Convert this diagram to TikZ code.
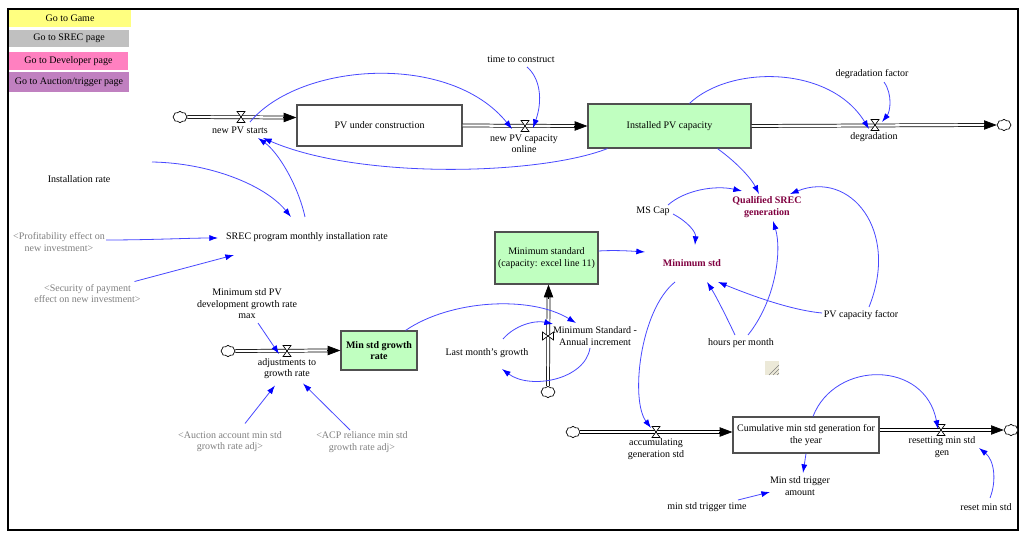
\documentclass[tikz,border=0pt]{standalone}
\usepackage{fontspec}
\setmainfont{Liberation Serif}
\usetikzlibrary{arrows.meta,calc,shapes.symbols}
\definecolor{stockgreen}{HTML}{C0FFC0}
\definecolor{stockborder}{HTML}{505050}
\definecolor{btnyellow}{HTML}{FFFF80}
\definecolor{btngray}{HTML}{C0C0C0}
\definecolor{btnpink}{HTML}{FF80C0}
\definecolor{btnpurple}{HTML}{C080C0}
\definecolor{maroontext}{HTML}{800040}
\definecolor{textgray}{HTML}{808080}
\definecolor{connblue}{HTML}{4848FF}
\definecolor{arrowblue}{HTML}{0000FF}
\definecolor{gripbeige}{HTML}{ECE9D8}
\begin{document}
\begin{tikzpicture}[x=0.75pt,y=-0.75pt,
  font=\fontsize{7.5}{8.6}\selectfont,
  lab/.style={align=center, inner sep=0pt, text=black},
  glab/.style={lab, text=textgray},
  mlab/.style={lab, text=maroontext, font=\fontsize{7.5}{8.6}\selectfont\bfseries},
  stockbox/.style={draw=stockborder, line width=0.9pt, inner sep=0pt, align=center},
  btn/.style={inner sep=0pt, align=center},
  conn/.style={draw=connblue, line width=0.6pt, -{Latex[length=6.5pt,width=4.5pt,color=arrowblue]}},
  pipe/.style={draw=black, double=white, line width=0.55pt, double distance=1.7pt},
  pipetip/.style={-{Triangle[length=9.5pt,width=7pt]}, line width=0.5pt},
  cloudnode/.style={cloud, draw, fill=white, cloud puffs=8, cloud puff arc=120, aspect=1.25, inner sep=0pt, minimum width=10.5pt, minimum height=8.5pt, line width=0.5pt},
  valveh/.pic={\draw[fill=white, line width=0.5pt] (-4,-5.5) -- (4,-5.5) -- (-4,5.5) -- (4,5.5) -- cycle;},
  valvev/.pic={\draw[fill=white, line width=0.5pt] (-5.5,-4) -- (-5.5,4) -- (5.5,-4) -- (5.5,4) -- cycle;}
]
\useasboundingbox (0,0) rectangle (1024,538);
\fill[white] (0,0) rectangle (1024,538);
\draw[line width=1.1pt] (8,9) rectangle (1018,530);

% buttons
\node[btn, fill=btnyellow, minimum width=91.5pt, minimum height=12.75pt] (bgame) at (70,18.5) {Go to Game};
\node[btn, fill=btngray, minimum width=90pt, minimum height=12.75pt] (bsrec) at (69,38.5) {Go to SREC page};
\node[btn, fill=btnpink, minimum width=89.25pt, minimum height=13.5pt] (bdev) at (68.5,61) {Go to Developer page};
\node[btn, fill=btnpurple, minimum width=90pt, minimum height=15pt] (bauc) at (69,82) {Go to Auction/trigger page};

% stocks
\node[stockbox, fill=white, minimum width=123.75pt, minimum height=30.75pt] (pvuc) at (379.5,125.5) {PV under construction};
\node[stockbox, fill=stockgreen, minimum width=122.25pt, minimum height=33pt] (ipv) at (669.5,126) {Installed PV capacity};
\node[stockbox, fill=stockgreen, minimum width=77.25pt, minimum height=39pt] (mstd) at (546.5,258) {Minimum standard\\(capacity: excel line 11)};
\node[stockbox, fill=stockgreen, minimum width=57pt, minimum height=29.25pt, font=\fontsize{7.5}{8.6}\selectfont\bfseries] (msgr) at (379,350.5) {Min std growth\\rate};
\node[stockbox, fill=white, minimum width=109.5pt, minimum height=27pt] (cum) at (806,435) {Cumulative min std generation for\\the year};

% clouds
\node[cloudnode] (c1) at (180,117) {};
\node[cloudnode] (c2) at (1004,125) {};
\node[cloudnode] (c3) at (228,351) {};
\node[cloudnode] (c4) at (548,392) {};
\node[cloudnode] (c5) at (573,432) {};
\node[cloudnode] (c6) at (1011,430) {};

% valve positions
\coordinate (vnps) at (241,117);
\coordinate (vnpo) at (525,126);
\coordinate (vdeg) at (875,125);
\coordinate (vadj) at (287,351);
\coordinate (vmsa) at (548,336);
\coordinate (vacc) at (656,432);
\coordinate (vres) at (941,430);

% pipes
\draw[pipe] (c1.east) -- ($(pvuc.west)+(-11,-8)$);
\draw[pipetip] ($(pvuc.west)+(-13,-8)$) -- ($(pvuc.west)+(0,-8)$);
\draw[pipe] (pvuc.east) -- ($(ipv.west)+(-11,0)$);
\draw[pipetip] ($(ipv.west)+(-13,0)$) -- (ipv.west);
\draw[pipe] (ipv.east) -- ($(c2.west)+(-11,0)$);
\draw[pipetip] ($(c2.west)+(-13,0)$) -- (c2.west);
\draw[pipe] (c3.east) -- ($(msgr.west)+(-11,0)$);
\draw[pipetip] ($(msgr.west)+(-13,0)$) -- (msgr.west);
\draw[pipe] (c4.north) -- ($(mstd.south)+(2,12)$);
\draw[pipetip] ($(mstd.south)+(2,14)$) -- ($(mstd.south)+(2,0)$);
\draw[pipe] (c5.east) -- ($(cum.west)+(-11,-3)$);
\draw[pipetip] ($(cum.west)+(-13,-3)$) -- ($(cum.west)+(0,-3)$);
\draw[pipe] ($(cum.east)+(0,-5)$) -- ($(c6.west)+(-11,0)$);
\draw[pipetip] ($(c6.west)+(-13,0)$) -- (c6.west);

% valves
\pic at (vnps) {valveh};
\pic at (vnpo) {valveh};
\pic at (vdeg) {valveh};
\pic at (vadj) {valveh};
\pic at (vmsa) {valvev};
\pic at (vacc) {valveh};
\pic at (vres) {valveh};

% flow labels
\node[lab] (lnps) at (240,130) {new PV starts};
\node[lab] (lnpo) at (524,144) {new PV capacity\\online};
\node[lab] (ldeg) at (874,137) {degradation};
\node[lab] (ladj) at (287,368.5) {adjustments to\\growth rate};
\node[lab] (lmsa) at (595,336) {Minimum Standard -\\Annual increment};
\node[lab] (lacc) at (656,449) {accumulating\\generation std};
\node[lab] (lres) at (942,447) {resetting min std\\gen};

% auxiliaries
\node[lab] (tc) at (521,59) {time to construct};
\node[lab] (df) at (872,74) {degradation factor};
\node[lab] (ir) at (79,179) {Installation rate};
\node[lab] (srec) at (307,237) {SREC program monthly installation rate};
\node[glab] (prof) at (59,242) {<Profitability effect on\\new investment>};
\node[glab] (sec) at (87.5,293.5) {<Security of payment\\effect on new investment>};
\node[lab] (mpv) at (247,304) {Minimum std PV\\development growth rate\\max};
\node[lab] (lmg) at (487,353) {Last month's growth};
\node[lab] (msc) at (653,211) {MS Cap};
\node[mlab] (qsg) at (767,207) {Qualified SREC\\generation};
\node[mlab] (mins) at (692,263) {Minimum std};
\node[lab] (pvcf) at (861,315) {PV capacity factor};
\node[lab] (hpm) at (741,343) {hours per month};
\node[glab] (auc) at (230,441.5) {<Auction account min std\\growth rate adj>};
\node[glab] (acp) at (362,442) {<ACP reliance min std\\growth rate adj>};
\node[lab] (mta) at (800,486) {Min std trigger\\amount};
\node[lab] (mtt) at (707,507) {min std trigger time};
\node[lab] (rms) at (986,507) {reset min std};

% grip icon
\fill[gripbeige] (765,361) rectangle (779,375);
\draw[gray, line width=0.5pt] (769,375) -- (779,365) (773,375) -- (779,369) (777,375) -- (779,373);

% connectors
\draw[conn] ($(lnps)+(10,-8)$) .. controls (300,62) and (450,52) .. ($(lnpo)+(-12,-15)$);
\draw[conn] ($(tc)+(6,8)$) .. controls (540,78) and (543,100) .. ($(vnpo)+(8,2)$);
\draw[conn] ($(ipv.south west)+(20,0)$) .. controls (540,175) and (360,180) .. ($(lnps)+(23,8)$);
\draw[conn] ($(srec)+(-2,-20)$) .. controls (298,185) and (278,152) .. ($(lnps)+(18,8)$);
\draw[conn] ($(ir)+(73,-17)$) .. controls (210,163) and (265,185) .. ($(srec)+(-16,-20)$);
\draw[conn] ($(prof)+(47,-2)$) .. controls (150,240) and (190,238) .. ($(srec)+(-89,1)$);
\draw[conn] ($(sec)+(47,-12)$) -- ($(srec)+(-73,18)$);
\draw[conn] ($(ipv.north)+(20,0)$) .. controls (730,65) and (830,65) .. ($(vdeg)+(-6,4)$);
\draw[conn] ($(df)+(12,8)$) .. controls (893,95) and (890,112) .. ($(vdeg)+(7,-3)$);
\draw[conn] ($(ipv.south)+(48,0)$) .. controls (740,165) and (752,180) .. ($(qsg)+(-8,-13)$);
\draw[conn] ($(msc)+(15,-6)$) .. controls (685,190) and (715,185) .. ($(qsg)+(-25,-16)$);
\draw[conn] ($(msc)+(20,3)$) .. controls (688,222) and (696,232) .. ($(mins)+(3,-18)$);
\draw[conn] ($(pvcf)+(8,-8)$) .. controls (900,230) and (850,170) .. ($(qsg)+(23,-13)$);
\draw[conn] ($(pvcf)+(-39,-2)$) .. controls (790,310) and (750,295) .. ($(mins)+(26,19)$);
\draw[conn] ($(hpm)+(-6,-8)$) .. controls (728,320) and (716,296) .. ($(mins)+(15,19)$);
\draw[conn] ($(hpm)+(7,-8)$) .. controls (776,300) and (782,250) .. ($(qsg)+(6,14)$);
\draw[conn] ($(mstd.east)+(0,-7)$) .. controls (615,250) and (630,251) .. ($(mins)+(-47,-11)$);
\draw[conn] ($(msgr.north east)+(-12,0)$) .. controls (450,300) and (530,295) .. ($(lmsa)+(-19,-13)$);
\draw[conn] ($(lmg)+(16,-14)$) .. controls (515,325) and (535,320) .. ($(vmsa)+(5,-12)$);
\draw[conn] ($(lmsa)+(-5,12)$) .. controls (585,380) and (530,390) .. ($(lmg)+(15,16)$);
\draw[conn] ($(mins)+(-17,19)$) .. controls (640,310) and (630,400) .. ($(vacc)+(-5,-4)$);
\draw[conn] ($(mpv)+(11,19)$) -- ($(vadj)+(-8,3)$);
\draw[conn] ($(auc)+(15,-18)$) -- ($(ladj)+(-12,17)$);
\draw[conn] ($(acp)+(-12,-12)$) -- ($(ladj)+(16,15)$);
\draw[conn] ($(cum.north)+(7,0)$) .. controls (835,360) and (925,360) .. ($(vres)+(-3,-1)$);
\draw[conn] (cum.south) -- ($(mta)+(3,-13)$);
\draw[conn] ($(mtt)+(31,-7)$) -- ($(mta)+(-30,6)$);
\draw[conn] ($(rms)+(4,-9)$) .. controls (997,480) and (994,460) .. ($(lres)+(37,1)$);
\end{tikzpicture}
\end{document}
